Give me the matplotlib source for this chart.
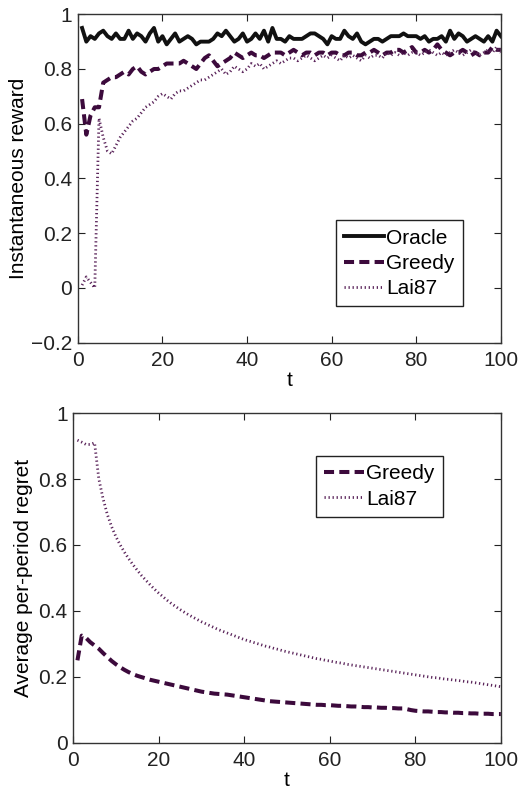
import matplotlib
matplotlib.use("Agg")
import matplotlib.pyplot as plt
import numpy as np

plt.rcParams['font.family'] = ['Liberation Sans', 'DejaVu Sans']

t = list(range(1, 101))

oracle_reward = [
    0.95, 0.90, 0.92, 0.91, 0.93, 0.94, 0.92, 0.91, 0.93, 0.91,
    0.91, 0.94, 0.91, 0.93, 0.92, 0.90, 0.93, 0.95, 0.90, 0.92,
    0.89, 0.91, 0.93, 0.90, 0.91, 0.92, 0.91, 0.89, 0.90, 0.90,
    0.90, 0.91, 0.93, 0.92, 0.94, 0.92, 0.90, 0.91, 0.93, 0.90,
    0.91, 0.93, 0.91, 0.94, 0.90, 0.95, 0.91, 0.91, 0.90, 0.92,
    0.91, 0.91, 0.91, 0.92, 0.93, 0.93, 0.92, 0.91, 0.89, 0.92,
    0.91, 0.91, 0.94, 0.92, 0.91, 0.93, 0.90, 0.89, 0.90, 0.91,
    0.91, 0.90, 0.91, 0.92, 0.92, 0.92, 0.93, 0.92, 0.92, 0.92,
    0.91, 0.92, 0.90, 0.91, 0.91, 0.92, 0.90, 0.94, 0.91, 0.93,
    0.92, 0.90, 0.91, 0.92, 0.91, 0.90, 0.92, 0.90, 0.94, 0.92,
]

greedy_reward = [
    0.69, 0.56, 0.63, 0.66, 0.66, 0.75, 0.76, 0.77, 0.77, 0.78,
    0.79, 0.78, 0.80, 0.81, 0.79, 0.78, 0.79, 0.80, 0.80, 0.81,
    0.82, 0.82, 0.82, 0.82, 0.83, 0.82, 0.81, 0.80, 0.82, 0.84,
    0.85, 0.83, 0.81, 0.82, 0.83, 0.84, 0.86, 0.85, 0.84, 0.85,
    0.86, 0.85, 0.85, 0.84, 0.85, 0.86, 0.86, 0.86, 0.85, 0.86,
    0.87, 0.86, 0.85, 0.86, 0.86, 0.85, 0.86, 0.86, 0.85, 0.86,
    0.86, 0.85, 0.85, 0.86, 0.86, 0.85, 0.85, 0.86, 0.86, 0.87,
    0.86, 0.85, 0.86, 0.86, 0.87, 0.87, 0.86, 0.87, 0.88, 0.86,
    0.86, 0.87, 0.86, 0.87, 0.89, 0.87, 0.86, 0.85, 0.86, 0.86,
    0.87, 0.86, 0.85, 0.86, 0.85, 0.86, 0.86, 0.88, 0.87, 0.87,
]

lai_reward = [
    0.01, 0.04, 0.02, 0.00, 0.62, 0.55, 0.50, 0.49, 0.52, 0.55,
    0.57, 0.59, 0.61, 0.62, 0.64, 0.66, 0.67, 0.68, 0.70, 0.71,
    0.70, 0.69, 0.71, 0.72, 0.72, 0.73, 0.74, 0.75, 0.76, 0.76,
    0.77, 0.78, 0.79, 0.80, 0.78, 0.79, 0.81, 0.80, 0.79, 0.80,
    0.82, 0.81, 0.82, 0.80, 0.81, 0.82, 0.83, 0.82, 0.83, 0.84,
    0.84, 0.83, 0.84, 0.85, 0.84, 0.83, 0.84, 0.85, 0.84, 0.85,
    0.84, 0.83, 0.85, 0.84, 0.85, 0.84, 0.83, 0.85, 0.84, 0.85,
    0.85, 0.84, 0.86, 0.85, 0.86, 0.85, 0.86, 0.85, 0.86, 0.86,
    0.85, 0.86, 0.87, 0.86, 0.85, 0.86, 0.85, 0.86, 0.87, 0.86,
    0.85, 0.86, 0.87, 0.86, 0.85, 0.86, 0.87, 0.86, 0.88, 0.86,
]

greedy_regret = [
    0.250, 0.325, 0.318, 0.305, 0.295, 0.285, 0.272, 0.260, 0.248, 0.238,
    0.229, 0.221, 0.214, 0.208, 0.203, 0.199, 0.195, 0.191, 0.188, 0.185,
    0.182, 0.179, 0.176, 0.173, 0.170, 0.167, 0.164, 0.161, 0.158, 0.155,
    0.153, 0.151, 0.149, 0.148, 0.147, 0.146, 0.144, 0.142, 0.140, 0.138,
    0.136, 0.134, 0.132, 0.130, 0.128, 0.126, 0.125, 0.124, 0.123, 0.122,
    0.121, 0.120, 0.119, 0.118, 0.117, 0.116, 0.115, 0.115, 0.114, 0.114,
    0.113, 0.112, 0.112, 0.111, 0.110, 0.110, 0.109, 0.108, 0.108, 0.107,
    0.107, 0.106, 0.106, 0.105, 0.105, 0.104, 0.104, 0.102, 0.099, 0.097,
    0.096, 0.095, 0.095, 0.094, 0.093, 0.093, 0.092, 0.092, 0.091, 0.091,
    0.090, 0.090, 0.089, 0.089, 0.088, 0.088, 0.088, 0.087, 0.087, 0.087,
]

lai_regret = [
    0.918, 0.912, 0.905, 0.905, 0.910, 0.800, 0.740, 0.692, 0.655, 0.625,
    0.600, 0.578, 0.558, 0.540, 0.523, 0.507, 0.493, 0.479, 0.466, 0.454,
    0.443, 0.432, 0.422, 0.413, 0.404, 0.396, 0.388, 0.381, 0.374, 0.367,
    0.361, 0.355, 0.349, 0.343, 0.338, 0.333, 0.328, 0.323, 0.318, 0.313,
    0.309, 0.305, 0.301, 0.297, 0.293, 0.290, 0.286, 0.283, 0.279, 0.276,
    0.273, 0.270, 0.267, 0.264, 0.261, 0.258, 0.255, 0.253, 0.250, 0.248,
    0.245, 0.243, 0.241, 0.238, 0.236, 0.234, 0.232, 0.230, 0.228, 0.226,
    0.224, 0.222, 0.220, 0.218, 0.216, 0.214, 0.212, 0.210, 0.208, 0.206,
    0.204, 0.202, 0.200, 0.198, 0.197, 0.195, 0.193, 0.192, 0.190, 0.189,
    0.187, 0.185, 0.184, 0.182, 0.180, 0.178, 0.176, 0.174, 0.172, 0.170,
]

x_ticks = [0, 20, 40, 60, 80, 100]
top_yticks = [-0.2, 0, 0.2, 0.4, 0.6, 0.8, 1]
bot_yticks = [0, 0.2, 0.4, 0.6, 0.8, 1]

GREEDY_C = '#3c0a3c'
LAI_C = '#5a245a'
FS = 15
GREEDY_DASH = (2.5, 1.3)
LAI_DASH = (0.45, 1.0)

fig = plt.figure(figsize=(5.19, 7.93), dpi=100)
ax1 = fig.add_axes([0.150, 0.568, 0.815, 0.414])
ax2 = fig.add_axes([0.141, 0.0634, 0.824, 0.4156])


def ylab(v):
    if v == 0:
        return '0'
    if v == 1:
        return '1'
    s = f'{v:g}'
    return s.replace('-', '\u2212')


def style(ax, yticks):
    ax.set_xlim(0, 100)
    ax.set_xticks(x_ticks)
    ax.set_yticks(yticks)
    ax.set_yticklabels([ylab(v) for v in yticks])
    ax.tick_params(direction='in', length=5, width=0.8, top=True, right=True,
                   labelsize=FS, colors='#222222')
    ax.tick_params(axis='x', pad=6)
    ax.tick_params(axis='y', pad=4)
    for s in ax.spines.values():
        s.set_linewidth(1.0)
        s.set_color('#333333')
    ax.set_xlabel('t', fontsize=FS, labelpad=1)


def legend(ax, loc, anchor):
    leg = ax.legend(loc=loc, bbox_to_anchor=anchor, fontsize=FS,
                    frameon=True, fancybox=False, edgecolor='#222222',
                    framealpha=1, handlelength=1.9, handletextpad=0.1,
                    borderpad=0.4, labelspacing=0.3, borderaxespad=0)
    leg.get_frame().set_linewidth(1.0)
    return leg


ax1.plot(t, oracle_reward, color='#111111', lw=2.8, label='Oracle')
ax1.plot(t, greedy_reward, color=GREEDY_C, lw=2.9, dashes=GREEDY_DASH, label='Greedy')
ax1.plot(t, lai_reward, color=LAI_C, lw=2.0, dashes=LAI_DASH, label='Lai87')
ax1.set_ylim(-0.2, 1)
style(ax1, top_yticks)
ax1.set_ylabel('Instantaneous reward', fontsize=FS, labelpad=2)
legend(ax1, 'lower right', (0.91, 0.11))

ax2.plot(t, greedy_regret, color=GREEDY_C, lw=2.9, dashes=GREEDY_DASH, label='Greedy')
ax2.plot(t, lai_regret, color=LAI_C, lw=2.0, dashes=LAI_DASH, label='Lai87')
ax2.set_ylim(0, 1)
style(ax2, bot_yticks)
ax2.set_ylabel('Average per-period regret', fontsize=FS, labelpad=4)
legend(ax2, 'upper right', (0.864, 0.87))

fig.savefig('out.png', dpi=100)
